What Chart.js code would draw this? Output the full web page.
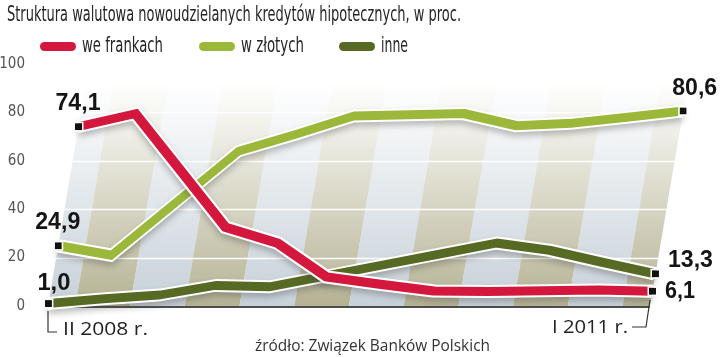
<!DOCTYPE html>
<html><head><meta charset="utf-8">
<script src="https://cdn.jsdelivr.net/npm/chart.js@4.4.1/dist/chart.umd.min.js"></script>
<style>html,body{margin:0;padding:0;background:#fff;}canvas{display:block;}</style>
</head><body>
<canvas id="c" width="720" height="357"></canvas>
<script>
// ---- data ----
const title = "Struktura walutowa nowoudzielanych kredytów hipotecznych, w proc.";
const source = "źródło: Związek Banków Polskich";
const categories = ["II 2008","III 2008","IV 2008","I 2009","II 2009","III 2009","IV 2009","I 2010","II 2010","III 2010","IV 2010","I 2011"];
const seriesNames = ["we frankach","w złotych","inne"];
const weFrankach = [74.1, 79.5, 56, 32.5, 26, 12, 9, 6.2, 6.0, 6.3, 6.6, 6.1];
const wZlotych   = [24.9, 21, 42.5, 64, 71, 78.5, 79, 79.5, 74.5, 75.5, 78, 80.6];
const inne       = [1.0, 3, 4.5, 8.5, 8, 12.5, 17, 21.5, 26, 23, 18, 13.3];
const yTicks = [0, 20, 40, 60, 80, 100];
const yearSuffix = " r.";

// ---- styles ----
const COLORS = ['#d3173d', '#9bb83a', '#566a24'];
const K = 0.17; // perspective skew
const NARROW = '"Liberation Sans Narrow","DejaVu Sans Condensed","Liberation Sans",sans-serif';
const BOLD = 'bold 23px "Liberation Sans Narrow","Liberation Sans",sans-serif';

function fitText(ctx, text, x, y, font, color, width, align) {
  ctx.save();
  ctx.font = font; ctx.fillStyle = color; ctx.textBaseline = 'alphabetic'; ctx.textAlign = 'left';
  const w = ctx.measureText(text).width;
  const s = width ? width / w : 1;
  const left = align === 'right' ? x - w * s : (align === 'center' ? x - w * s / 2 : x);
  ctx.translate(left, y); ctx.scale(s, 1);
  ctx.fillText(text, 0, 0);
  ctx.restore();
}
function fmt(v) { return v.toFixed(1).replace('.', ','); }

const seriesData = [weFrankach, wZlotych, inne];
const datasets = [];
seriesData.forEach((d, i) => {
  datasets.push({label: seriesNames[i], data: d, borderColor: COLORS[i], borderWidth: 9, order: i * 2,
    pointRadius: 0, tension: 0, clip: false, borderJoinStyle: 'miter', borderCapStyle: 'butt', fill: false});
  datasets.push({label: '', data: d, borderColor: '#ffffff', borderWidth: 13, order: i * 2 + 1, outline: true,
    pointRadius: 0, tension: 0, clip: false, borderJoinStyle: 'miter', borderCapStyle: 'butt', fill: false});
});

function skewPt(chart, xv, yv) {
  const {x, y} = chart.scales;
  const y0 = y.getPixelForValue(0);
  const py = y.getPixelForValue(yv);
  return {x: x.getPixelForValue(xv) + K * (y0 - py), y: py};
}

const scene = {
  id: 'scene',
  beforeDatasetsDraw(chart) {
    const {ctx, chartArea: a, scales: {x, y}} = chart;
    const y0 = y.getPixelForValue(0);
    ctx.save();
    ctx.transform(1, 0, -K, 1, K * y0, 0);
    const top = y.getPixelForValue(100) + 20;
    const step = x.getPixelForValue(1) - x.getPixelForValue(0);
    categories.forEach((c, i) => {
      const cx = x.getPixelForValue(i);
      const l = Math.max(a.left, cx - step / 2), r = Math.min(a.right, cx + step / 2);
      const rgb = i % 2 ? '182,179,148' : '199,209,217';
      const g = ctx.createLinearGradient(0, top, 0, y0);
      g.addColorStop(0, 'rgba(' + rgb + ',0)');
      g.addColorStop(0.45, 'rgba(' + rgb + ',0.45)');
      g.addColorStop(1, 'rgba(' + rgb + ',1)');
      ctx.fillStyle = g;
      ctx.fillRect(l, top, r - l, y0 - top);
    });
    ctx.strokeStyle = 'rgba(255,255,255,0.95)';
    ctx.lineWidth = 1.5;
    yTicks.slice(1, -1).forEach(t => {
      const py = Math.round(y.getPixelForValue(t)) + 0.5;
      ctx.beginPath(); ctx.moveTo(a.left, py); ctx.lineTo(a.right, py); ctx.stroke();
    });
    ctx.strokeStyle = '#4d4d4d'; ctx.lineWidth = 2;
    ctx.beginPath(); ctx.moveTo(a.left, y0 + 1); ctx.lineTo(a.right, y0 + 1); ctx.stroke();
  },
  beforeDatasetDraw(chart, args) {
    if (chart.data.datasets[args.index].outline) {
      const ctx = chart.ctx; ctx.save();
      ctx.shadowColor = 'rgba(70,70,70,0.35)'; ctx.shadowBlur = 6; ctx.shadowOffsetY = 4;
    }
  },
  afterDatasetDraw(chart, args) {
    if (chart.data.datasets[args.index].outline) chart.ctx.restore();
  },
  afterDatasetsDraw(chart) { chart.ctx.restore(); },
  afterDraw(chart) {
    const ctx = chart.ctx;
    const n = categories.length - 1;
    // title
    fitText(ctx, title, 7, 21, '21px ' + NARROW, '#262626', 454);
    // legend
    const legX = [40, 199, 339], legW = [81, 63, 27];
    seriesNames.forEach((s, i) => {
      ctx.save(); ctx.fillStyle = COLORS[i];
      ctx.beginPath(); ctx.roundRect(legX[i], 42, 36, 9, 4.5); ctx.fill(); ctx.restore();
      fitText(ctx, s, legX[i] + 42, 52, '21px ' + NARROW, '#262626', legW[i]);
    });
    // markers + value labels
    const startOff = [[22, -17], [22, -17], [22, -14]];
    const endOff = [[12.5, 7, 30], [-11, -16, 45], [12.5, -7, 45]];
    seriesData.forEach((d, i) => {
      const p0 = skewPt(chart, 0, d[0]);
      const p1 = skewPt(chart, n, d[n]);
      [p0, p1].forEach(p => {
        ctx.save(); ctx.fillStyle = '#111'; ctx.strokeStyle = '#fff'; ctx.lineWidth = 1.5;
        ctx.fillRect(p.x - 3.5, p.y - 3.5, 7, 7); ctx.strokeRect(p.x - 4.25, p.y - 4.25, 8.5, 8.5);
        ctx.restore();
      });
      const s0 = fmt(d[0]);
      fitText(ctx, s0, p0.x + startOff[i][0], p0.y + startOff[i][1], BOLD, '#151515', s0.length > 3 ? 45 : 33, 'right');
      fitText(ctx, fmt(d[n]), p1.x + endOff[i][0], p1.y + endOff[i][1], BOLD, '#151515', endOff[i][2]);
    });
    // x labels with brackets
    const y0 = chart.scales.y.getPixelForValue(0);
    const xa = chart.scales.x.getPixelForValue(0), xb = chart.scales.x.getPixelForValue(n);
    ctx.save(); ctx.strokeStyle = '#333'; ctx.lineWidth = 1.2;
    ctx.beginPath(); ctx.moveTo(xa, y0 + 5); ctx.lineTo(xa, y0 + 26); ctx.lineTo(xa + 9, y0 + 26); ctx.stroke();
    ctx.beginPath(); ctx.moveTo(xb - 18, y0 + 21); ctx.lineTo(xb - 4, y0 + 21); ctx.lineTo(xb, y0 - 6); ctx.stroke();
    ctx.restore();
    fitText(ctx, categories[0] + yearSuffix, xa + 15, y0 + 29, '19px "Open Sans","Liberation Sans",sans-serif', '#222', 85);
    fitText(ctx, categories[n] + yearSuffix, xb - 22, y0 + 27, '19px "Open Sans","Liberation Sans",sans-serif', '#222', 76, 'right');
    // source
    fitText(ctx, source, 255, 351, '16px "Open Sans","Liberation Sans",sans-serif', '#333', 235);
  }
};

new Chart(document.getElementById('c'), {
  type: 'line',
  data: {labels: categories, datasets: datasets},
  options: {
    responsive: false, animation: false, devicePixelRatio: 1,
    layout: {padding: {left: 0, right: 70, top: 64, bottom: 51}},
    plugins: {legend: {display: false}, tooltip: {enabled: false}, title: {display: false}},
    scales: {
      x: {display: false, offset: false},
      y: {min: 0, max: 100, afterFit(s) { s.width = 48; },
        afterBuildTicks(s) { s.ticks = yTicks.map(v => ({value: v})); },
        grid: {display: false}, border: {display: false},
        ticks: {padding: 15, color: '#555', font: {family: NARROW, size: 15}}}
    }
  },
  plugins: [scene]
});
</script>
</body></html>
